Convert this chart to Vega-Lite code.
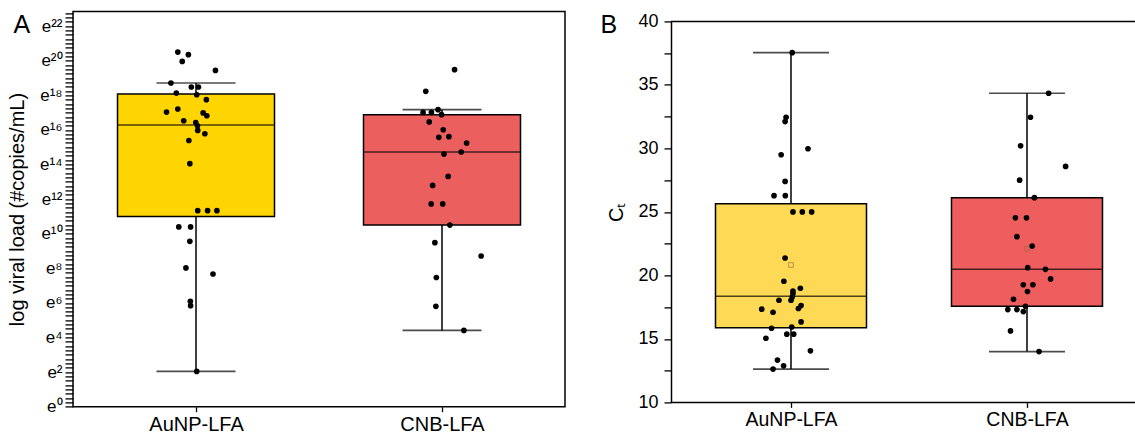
{
  "$schema": "https://vega.github.io/schema/vega-lite/v6.json",
  "padding": {"left": 6, "top": 2.4, "right": 0, "bottom": 0},
  "spacing": 106,
  "bounds": "flush",
  "resolve": {"scale": {"fill": "independent"}},
  "config": {
    "font": "Liberation Sans",
    "view": {"stroke": null},
    "axis": {"grid": false, "domainColor": "black", "tickColor": "black", "labelColor": "black", "titleColor": "black", "titleFontWeight": "normal", "domainWidth": 1.5, "tickWidth": 1.3, "labelFont": "Liberation Sans", "titleFont": "Liberation Sans"}
  },
  "datasets": {
    "boxA": [
      {"group": "AuNP-LFA", "lo": 2.04, "q1": 11.0, "med": 16.28, "q3": 18.07, "hi": 18.71},
      {"group": "CNB-LFA", "lo": 4.41, "q1": 10.5, "med": 14.72, "q3": 16.88, "hi": 17.17}
    ],
    "boxB": [
      {"group": "AuNP-LFA", "lo": 12.62, "q1": 15.87, "med": 18.36, "q3": 25.64, "hi": 37.54, "mean": 20.82},
      {"group": "CNB-LFA", "lo": 14.0, "q1": 17.57, "med": 20.48, "q3": 26.12, "hi": 34.34, "mean": 22.1}
    ],
    "ptsA": [
      {"group": "AuNP-LFA", "v": 20.5, "jit": -0.074},
      {"group": "AuNP-LFA", "v": 20.35, "jit": -0.031},
      {"group": "AuNP-LFA", "v": 19.96, "jit": -0.056},
      {"group": "AuNP-LFA", "v": 19.44, "jit": 0.079},
      {"group": "AuNP-LFA", "v": 18.71, "jit": -0.102},
      {"group": "AuNP-LFA", "v": 18.48, "jit": -0.019},
      {"group": "AuNP-LFA", "v": 18.48, "jit": 0.010},
      {"group": "AuNP-LFA", "v": 18.13, "jit": -0.080},
      {"group": "AuNP-LFA", "v": 18.03, "jit": 0.003},
      {"group": "AuNP-LFA", "v": 17.75, "jit": 0.042},
      {"group": "AuNP-LFA", "v": 17.21, "jit": -0.074},
      {"group": "AuNP-LFA", "v": 17.03, "jit": -0.120},
      {"group": "AuNP-LFA", "v": 16.98, "jit": 0.029},
      {"group": "AuNP-LFA", "v": 16.82, "jit": 0.044},
      {"group": "AuNP-LFA", "v": 16.53, "jit": -0.050},
      {"group": "AuNP-LFA", "v": 16.43, "jit": -0.001},
      {"group": "AuNP-LFA", "v": 16.24, "jit": 0.006},
      {"group": "AuNP-LFA", "v": 15.97, "jit": 0.007},
      {"group": "AuNP-LFA", "v": 15.78, "jit": 0.036},
      {"group": "AuNP-LFA", "v": 15.39, "jit": -0.029},
      {"group": "AuNP-LFA", "v": 14.05, "jit": -0.025},
      {"group": "AuNP-LFA", "v": 11.33, "jit": 0.007},
      {"group": "AuNP-LFA", "v": 11.33, "jit": 0.047},
      {"group": "AuNP-LFA", "v": 11.33, "jit": 0.085},
      {"group": "AuNP-LFA", "v": 10.39, "jit": -0.070},
      {"group": "AuNP-LFA", "v": 10.39, "jit": -0.022},
      {"group": "AuNP-LFA", "v": 9.56, "jit": -0.025},
      {"group": "AuNP-LFA", "v": 8.02, "jit": -0.041},
      {"group": "AuNP-LFA", "v": 7.67, "jit": 0.069},
      {"group": "AuNP-LFA", "v": 6.09, "jit": -0.023},
      {"group": "AuNP-LFA", "v": 5.84, "jit": -0.022},
      {"group": "AuNP-LFA", "v": 2.04, "jit": 0.003},
      {"group": "CNB-LFA", "v": 19.48, "jit": 0.051},
      {"group": "CNB-LFA", "v": 18.23, "jit": -0.066},
      {"group": "CNB-LFA", "v": 17.01, "jit": -0.077},
      {"group": "CNB-LFA", "v": 17.01, "jit": -0.043},
      {"group": "CNB-LFA", "v": 17.17, "jit": -0.016},
      {"group": "CNB-LFA", "v": 16.88, "jit": -0.002},
      {"group": "CNB-LFA", "v": 16.46, "jit": -0.052},
      {"group": "CNB-LFA", "v": 16.01, "jit": 0.005},
      {"group": "CNB-LFA", "v": 15.57, "jit": -0.013},
      {"group": "CNB-LFA", "v": 15.61, "jit": 0.028},
      {"group": "CNB-LFA", "v": 15.24, "jit": 0.100},
      {"group": "CNB-LFA", "v": 14.72, "jit": 0.078},
      {"group": "CNB-LFA", "v": 14.6, "jit": 0.008},
      {"group": "CNB-LFA", "v": 13.31, "jit": 0.025},
      {"group": "CNB-LFA", "v": 12.79, "jit": -0.038},
      {"group": "CNB-LFA", "v": 11.72, "jit": -0.044},
      {"group": "CNB-LFA", "v": 11.72, "jit": 0.003},
      {"group": "CNB-LFA", "v": 10.5, "jit": 0.032},
      {"group": "CNB-LFA", "v": 9.48, "jit": -0.029},
      {"group": "CNB-LFA", "v": 8.71, "jit": 0.159},
      {"group": "CNB-LFA", "v": 7.47, "jit": -0.023},
      {"group": "CNB-LFA", "v": 5.8, "jit": -0.025},
      {"group": "CNB-LFA", "v": 4.41, "jit": 0.089}
    ],
    "ptsB": [
      {"group": "AuNP-LFA", "v": 37.54, "jit": 0.005},
      {"group": "AuNP-LFA", "v": 32.45, "jit": -0.020},
      {"group": "AuNP-LFA", "v": 32.11, "jit": -0.024},
      {"group": "AuNP-LFA", "v": 29.97, "jit": 0.069},
      {"group": "AuNP-LFA", "v": 29.5, "jit": -0.040},
      {"group": "AuNP-LFA", "v": 27.4, "jit": -0.024},
      {"group": "AuNP-LFA", "v": 26.28, "jit": -0.069},
      {"group": "AuNP-LFA", "v": 26.28, "jit": -0.023},
      {"group": "AuNP-LFA", "v": 25.0, "jit": 0.008},
      {"group": "AuNP-LFA", "v": 25.0, "jit": 0.046},
      {"group": "AuNP-LFA", "v": 25.0, "jit": 0.084},
      {"group": "AuNP-LFA", "v": 21.37, "jit": -0.024},
      {"group": "AuNP-LFA", "v": 19.54, "jit": -0.029},
      {"group": "AuNP-LFA", "v": 18.99, "jit": 0.038},
      {"group": "AuNP-LFA", "v": 18.77, "jit": 0.008},
      {"group": "AuNP-LFA", "v": 18.57, "jit": 0.008},
      {"group": "AuNP-LFA", "v": 18.3, "jit": 0.005},
      {"group": "AuNP-LFA", "v": 18.04, "jit": -0.049},
      {"group": "AuNP-LFA", "v": 18.04, "jit": 0.0},
      {"group": "AuNP-LFA", "v": 17.62, "jit": 0.041},
      {"group": "AuNP-LFA", "v": 17.39, "jit": 0.030},
      {"group": "AuNP-LFA", "v": 17.34, "jit": -0.119},
      {"group": "AuNP-LFA", "v": 17.1, "jit": -0.073},
      {"group": "AuNP-LFA", "v": 16.34, "jit": 0.041},
      {"group": "AuNP-LFA", "v": 15.84, "jit": -0.079},
      {"group": "AuNP-LFA", "v": 15.94, "jit": 0.003},
      {"group": "AuNP-LFA", "v": 15.37, "jit": -0.017},
      {"group": "AuNP-LFA", "v": 15.37, "jit": 0.011},
      {"group": "AuNP-LFA", "v": 15.05, "jit": -0.102},
      {"group": "AuNP-LFA", "v": 14.06, "jit": 0.079},
      {"group": "AuNP-LFA", "v": 13.33, "jit": -0.055},
      {"group": "AuNP-LFA", "v": 12.88, "jit": -0.030},
      {"group": "AuNP-LFA", "v": 12.62, "jit": -0.073},
      {"group": "CNB-LFA", "v": 34.34, "jit": 0.088},
      {"group": "CNB-LFA", "v": 32.45, "jit": 0.014},
      {"group": "CNB-LFA", "v": 30.2, "jit": -0.026},
      {"group": "CNB-LFA", "v": 28.58, "jit": 0.157},
      {"group": "CNB-LFA", "v": 27.5, "jit": -0.030},
      {"group": "CNB-LFA", "v": 26.12, "jit": 0.030},
      {"group": "CNB-LFA", "v": 24.53, "jit": -0.047},
      {"group": "CNB-LFA", "v": 24.53, "jit": -0.002},
      {"group": "CNB-LFA", "v": 23.05, "jit": -0.041},
      {"group": "CNB-LFA", "v": 22.31, "jit": 0.021},
      {"group": "CNB-LFA", "v": 20.61, "jit": 0.003},
      {"group": "CNB-LFA", "v": 20.48, "jit": 0.075},
      {"group": "CNB-LFA", "v": 19.72, "jit": 0.096},
      {"group": "CNB-LFA", "v": 19.26, "jit": -0.015},
      {"group": "CNB-LFA", "v": 19.26, "jit": 0.024},
      {"group": "CNB-LFA", "v": 18.73, "jit": 0.002},
      {"group": "CNB-LFA", "v": 18.12, "jit": -0.055},
      {"group": "CNB-LFA", "v": 17.57, "jit": -0.006},
      {"group": "CNB-LFA", "v": 17.31, "jit": -0.078},
      {"group": "CNB-LFA", "v": 17.31, "jit": -0.041},
      {"group": "CNB-LFA", "v": 17.15, "jit": -0.015},
      {"group": "CNB-LFA", "v": 15.63, "jit": -0.067},
      {"group": "CNB-LFA", "v": 14.0, "jit": 0.049}
    ]
  },
  "hconcat": [
    {
      "width": 492,
      "height": 395.3,
      "view": {"stroke": "black", "strokeWidth": 1.5},
      "resolve": {"axis": {"x": "independent", "y": "independent"}},
      "layer": [
        {
          "data": {"name": "boxA"},
          "mark": {"type": "rule", "color": "black", "strokeWidth": 1.5},
          "encoding": {
            "x": {"field": "group", "type": "nominal", "sort": ["AuNP-LFA", "CNB-LFA"], "scale": {"type": "point", "padding": 0.5},
              "axis": {"orient": "bottom", "title": null, "labelAngle": 0, "labelFontSize": 20, "labelPadding": 3, "tickSize": 5, "domain": false}},
            "y": {"field": "lo", "type": "quantitative", "scale": {"domain": [0, 22.85], "nice": false, "zero": false},
              "axis": {
                "orient": "left",
                "title": "log viral load (#copies/mL)", "titleFontSize": 20, "titleX": -50, "titleBaseline": "alphabetic",
                "values": [0,0.25,0.5,0.75,1,1.25,1.5,1.75,2,2.25,2.5,2.75,3,3.25,3.5,3.75,4,4.25,4.5,4.75,5,5.25,5.5,5.75,6,6.25,6.5,6.75,7,7.25,7.5,7.75,8,8.25,8.5,8.75,9,9.25,9.5,9.75,10,10.25,10.5,10.75,11,11.25,11.5,11.75,12,12.25,12.5,12.75,13,13.25,13.5,13.75,14,14.25,14.5,14.75,15,15.25,15.5,15.75,16,16.25,16.5,16.75,17,17.25,17.5,17.75,18,18.25,18.5,18.75,19,19.25,19.5,19.75,20,20.25,20.5,20.75,21,21.25,21.5,21.75,22,22.25,22.5,22.75],
                "labelExpr": "datum.value % 2 === 0 ? ['e⁰','e²','e⁴','e⁶','e⁸','e¹⁰','e¹²','e¹⁴','e¹⁶','e¹⁸','e²⁰','e²²'][datum.value/2] : ''",
                "labelOverlap": false, "labelFlush": false, "labelBound": false,
                "labelFontSize": 17, "labelPadding": 3, "domain": false, "tickSize": 8,
                "encode": {"ticks": {"update": {"x2": {"signal": "datum.value % 2 === 0 ? -8 : (datum.value % 1 === 0 ? -5 : -3)"}}}}
              }},
            "y2": {"field": "hi"}
          }
        },
        {
          "data": {"name": "boxA"},
          "mark": {"type": "bar", "size": 157, "stroke": "black", "strokeWidth": 1.5},
          "encoding": {
            "x": {"field": "group", "type": "nominal", "sort": ["AuNP-LFA", "CNB-LFA"], "scale": {"type": "point", "padding": 0.5},
              "axis": {"orient": "top", "title": "A", "labels": false, "ticks": false, "domain": false, "titleX": -60, "titleY": 21.3, "titleAngle": 0, "titleAlign": "left", "titleBaseline": "alphabetic", "titleFontSize": 25, "titleFontWeight": "normal"}},
            "y": {"field": "q1", "type": "quantitative", "axis": null},
            "y2": {"field": "q3"},
            "fill": {"field": "group", "type": "nominal", "scale": {"domain": ["AuNP-LFA", "CNB-LFA"], "range": ["#FFD500", "#EC5F5F"]}, "legend": null}
          }
        },
        {
          "data": {"name": "boxA"},
          "mark": {"type": "tick", "size": 157, "thickness": 1.6, "color": "black"},
          "encoding": {
            "x": {"field": "group", "type": "nominal", "sort": ["AuNP-LFA", "CNB-LFA"], "axis": null},
            "y": {"field": "med", "type": "quantitative", "axis": null}
          }
        },
        {
          "data": {"name": "boxA"},
          "mark": {"type": "tick", "size": 79, "thickness": 1.6, "color": "black"},
          "encoding": {
            "x": {"field": "group", "type": "nominal", "sort": ["AuNP-LFA", "CNB-LFA"], "axis": null},
            "y": {"field": "lo", "type": "quantitative", "axis": null}
          }
        },
        {
          "data": {"name": "boxA"},
          "mark": {"type": "tick", "size": 79, "thickness": 1.6, "color": "black"},
          "encoding": {
            "x": {"field": "group", "type": "nominal", "sort": ["AuNP-LFA", "CNB-LFA"], "axis": null},
            "y": {"field": "hi", "type": "quantitative", "axis": null}
          }
        },
        {
          "data": {"name": "ptsA"},
          "mark": {"type": "circle", "size": 32, "color": "black", "opacity": 1},
          "encoding": {
            "x": {"field": "group", "type": "nominal", "sort": ["AuNP-LFA", "CNB-LFA"], "axis": null},
            "y": {"field": "v", "type": "quantitative", "axis": null},
            "xOffset": {"field": "jit", "type": "quantitative", "scale": {"domain": [-0.5, 0.5], "range": [-123, 123]}}
          }
        }
      ]
    },
    {
      "width": 464,
      "height": 391,
      "resolve": {"axis": {"x": "independent", "y": "independent"}},
      "layer": [
        {
          "data": {"name": "boxB"},
          "mark": {"type": "rule", "color": "black", "strokeWidth": 1.5},
          "encoding": {
            "x": {"field": "group", "type": "nominal", "sort": ["AuNP-LFA", "CNB-LFA"], "scale": {"type": "point", "range": [120, 356], "padding": 0},
              "axis": {"orient": "bottom", "title": null, "labelAngle": 0, "labelFontSize": 19.5, "labelPadding": 3, "tickSize": 5, "domain": false}},
            "y": {"field": "lo", "type": "quantitative", "scale": {"domain": [10, 40], "range": [391, 10], "nice": false, "zero": false},
              "axis": {
                "orient": "left",
                "title": "Cₜ", "titleFontSize": 20, "titleX": -48.5, "titleY": 200.5, "titleBaseline": "alphabetic",
                "values": [10,12.5,15,17.5,20,22.5,25,27.5,30,32.5,35,37.5,40],
                "labelExpr": "datum.value % 5 === 0 ? datum.label : ''",
                "labelOverlap": false, "labelFlush": false, "labelBound": false,
                "labelFontSize": 18, "labelPadding": 6, "tickSize": 7,
                "encode": {"ticks": {"update": {"x2": {"signal": "datum.value % 5 === 0 ? -7 : -4"}}}}
              }},
            "y2": {"field": "hi"}
          }
        },
        {
          "data": {"values": [{}]},
          "mark": {"type": "rule", "color": "black", "strokeWidth": 1.5},
          "encoding": {"y": {"datum": 40, "type": "quantitative", "axis": null}}
        },
        {
          "data": {"values": [{}]},
          "mark": {"type": "rule", "color": "black", "strokeWidth": 1.5},
          "encoding": {"y": {"datum": 10, "type": "quantitative", "axis": null}}
        },
        {
          "data": {"name": "boxB"},
          "mark": {"type": "bar", "size": 151, "stroke": "black", "strokeWidth": 1.5},
          "encoding": {
            "x": {"field": "group", "type": "nominal", "sort": ["AuNP-LFA", "CNB-LFA"], "scale": {"type": "point", "range": [120, 356], "padding": 0},
              "axis": {"orient": "top", "title": "B", "labels": false, "ticks": false, "domain": false, "titleX": -71, "titleY": 21.3, "titleAngle": 0, "titleAlign": "left", "titleBaseline": "alphabetic", "titleFontSize": 25, "titleFontWeight": "normal"}},
            "y": {"field": "q1", "type": "quantitative", "axis": null},
            "y2": {"field": "q3"},
            "fill": {"field": "group", "type": "nominal", "scale": {"domain": ["AuNP-LFA", "CNB-LFA"], "range": ["#FDD955", "#EE5E5E"]}, "legend": null}
          }
        },
        {
          "data": {"name": "boxB"},
          "mark": {"type": "tick", "size": 151, "thickness": 1.6, "color": "black"},
          "encoding": {
            "x": {"field": "group", "type": "nominal", "sort": ["AuNP-LFA", "CNB-LFA"], "axis": null},
            "y": {"field": "med", "type": "quantitative", "axis": null}
          }
        },
        {
          "data": {"name": "boxB"},
          "mark": {"type": "tick", "size": 76, "thickness": 1.6, "color": "black"},
          "encoding": {
            "x": {"field": "group", "type": "nominal", "sort": ["AuNP-LFA", "CNB-LFA"], "axis": null},
            "y": {"field": "lo", "type": "quantitative", "axis": null}
          }
        },
        {
          "data": {"name": "boxB"},
          "mark": {"type": "tick", "size": 76, "thickness": 1.6, "color": "black"},
          "encoding": {
            "x": {"field": "group", "type": "nominal", "sort": ["AuNP-LFA", "CNB-LFA"], "axis": null},
            "y": {"field": "hi", "type": "quantitative", "axis": null}
          }
        },
        {
          "data": {"name": "boxB"},
          "mark": {"type": "square", "size": 22, "filled": false, "stroke": "#9A6B3F", "strokeWidth": 0.9},
          "encoding": {
            "x": {"field": "group", "type": "nominal", "sort": ["AuNP-LFA", "CNB-LFA"], "axis": null},
            "y": {"field": "mean", "type": "quantitative", "axis": null}
          }
        },
        {
          "data": {"name": "ptsB"},
          "mark": {"type": "circle", "size": 32, "color": "black", "opacity": 1},
          "encoding": {
            "x": {"field": "group", "type": "nominal", "sort": ["AuNP-LFA", "CNB-LFA"], "axis": null},
            "y": {"field": "v", "type": "quantitative", "axis": null},
            "xOffset": {"field": "jit", "type": "quantitative", "scale": {"domain": [-0.5, 0.5], "range": [-118, 118]}}
          }
        }
      ]
    }
  ]
}
